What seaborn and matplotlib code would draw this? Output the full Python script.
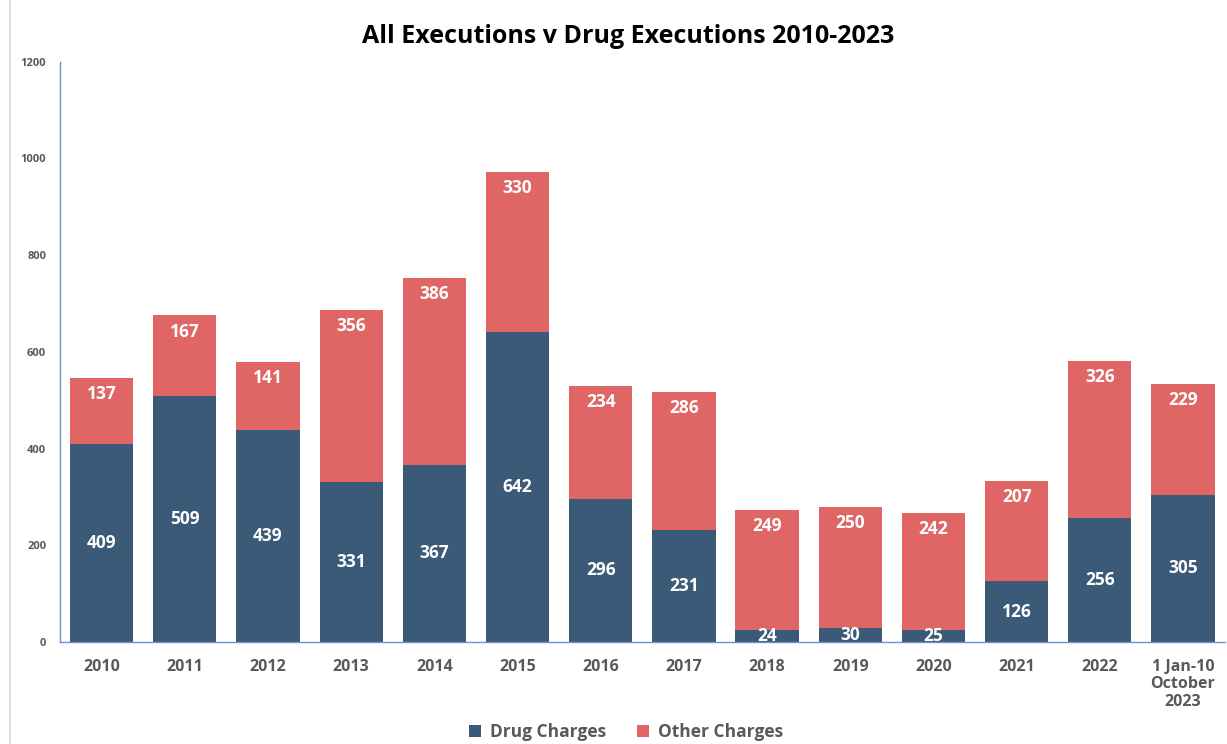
import matplotlib
matplotlib.use('Agg')
import matplotlib.pyplot as plt
import matplotlib.lines as mlines
import numpy as np
import pandas as pd
import seaborn as sns

# categories and values
years = ['2010', '2011', '2012', '2013', '2014', '2015', '2016', '2017',
         '2018', '2019', '2020', '2021', '2022', '1 Jan-10\nOctober\n2023']
drug = [409, 509, 439, 331, 367, 642, 296, 231, 24, 30, 25, 126, 256, 305]
other = [137, 167, 141, 356, 386, 330, 234, 286, 249, 250, 242, 207, 326, 229]

BLUE = '#3a5a78'
RED = '#e06666'
GREY = '#595959'
AXIS = '#6f8fd0'

df = pd.DataFrame({'year': years, 'drug': drug, 'other': other})
df['total'] = df['drug'] + df['other']

sns.set_theme(style='white')
plt.rcParams['font.family'] = ['Open Sans', 'DejaVu Sans']

fig = plt.figure(figsize=(12.27, 7.44), dpi=100)
ax = fig.add_axes([0.049, 0.137, 0.949, 0.780])

# stacked bars: total in red behind, drug in blue on top
sns.barplot(data=df, x='year', y='total', color=RED, width=0.76,
            saturation=1, ax=ax, label='Other Charges', linewidth=0)
sns.barplot(data=df, x='year', y='drug', color=BLUE, width=0.76,
            saturation=1, ax=ax, label='Drug Charges', linewidth=0)

# value labels
for i, row in df.iterrows():
    ax.text(i, row['drug'] / 2, str(row['drug']), ha='center', va='center',
            color='white', fontsize=12.5, fontweight='bold')
    ax.text(i, row['total'] - 34, str(row['other']), ha='center', va='center',
            color='white', fontsize=12.5, fontweight='bold')

ax.set_ylim(0, 1200)
ax.set_xlim(-0.5, 13.5)
ax.set_yticks(np.arange(0, 1201, 200))
ax.set_xlabel('')
ax.set_ylabel('')
ax.tick_params(axis='y', labelsize=8, labelcolor=GREY, length=0, pad=10)
ax.tick_params(axis='x', labelsize=11.5, labelcolor=GREY, length=0, pad=12)
for lab in ax.get_xticklabels() + ax.get_yticklabels():
    lab.set_fontweight('bold')
for lab in ax.get_xticklabels():
    lab.set_linespacing(1.12)

for side in ['top', 'right']:
    ax.spines[side].set_visible(False)
for side in ['left', 'bottom']:
    ax.spines[side].set_color(AXIS)
    ax.spines[side].set_linewidth(1.0)

fig.suptitle('All Executions v Drug Executions 2010-2023', x=0.512, y=0.968,
             fontsize=18, fontweight='bold', color='black')

handles, labels = ax.get_legend_handles_labels()
ax.get_legend().remove()
order = [labels.index('Drug Charges'), labels.index('Other Charges')]
leg = fig.legend([handles[k] for k in order], [labels[k] for k in order],
                 loc='center', bbox_to_anchor=(0.51, 0.016), ncol=2,
                 frameon=False, fontsize=12.5, handlelength=0.7,
                 handleheight=0.7, columnspacing=1.8, handletextpad=0.5)
for t in leg.get_texts():
    t.set_color(GREY)
    t.set_fontweight('bold')

# light frame line on the left edge
fig.add_artist(mlines.Line2D([0.008, 0.008], [0, 1], color='#d9d9d9', lw=1.2))

fig.savefig('out.png', dpi=100)
